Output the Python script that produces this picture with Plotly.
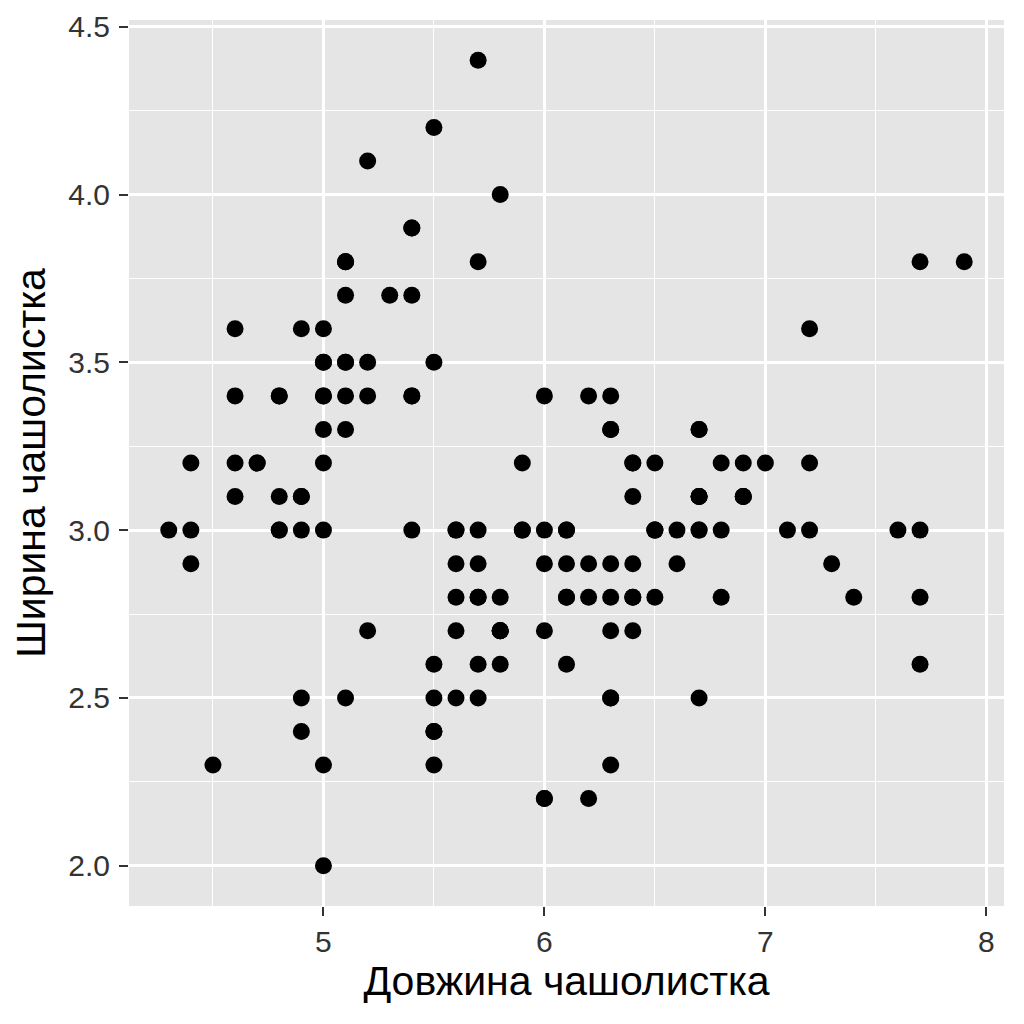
import plotly.graph_objects as go

sepal_length = [
    5.1, 4.9, 4.7, 4.6, 5.0, 5.4, 4.6, 5.0, 4.4, 4.9, 5.4, 4.8, 4.8, 4.3, 5.8, 5.7, 5.4, 5.1, 5.7, 5.1,
    5.4, 5.1, 4.6, 5.1, 4.8, 5.0, 5.0, 5.2, 5.2, 4.7, 4.8, 5.4, 5.2, 5.5, 4.9, 5.0, 5.5, 4.9, 4.4, 5.1,
    5.0, 4.5, 4.4, 5.0, 5.1, 4.8, 5.1, 4.6, 5.3, 5.0,
    7.0, 6.4, 6.9, 5.5, 6.5, 5.7, 6.3, 4.9, 6.6, 5.2, 5.0, 5.9, 6.0, 6.1, 5.6, 6.7, 5.6, 5.8, 6.2, 5.6,
    5.9, 6.1, 6.3, 6.1, 6.4, 6.6, 6.8, 6.7, 6.0, 5.7, 5.5, 5.5, 5.8, 6.0, 5.4, 6.0, 6.7, 6.3, 5.6, 5.5,
    5.5, 6.1, 5.8, 5.0, 5.6, 5.7, 5.7, 6.2, 5.1, 5.7,
    6.3, 5.8, 7.1, 6.3, 6.5, 7.6, 4.9, 7.3, 6.7, 7.2, 6.5, 6.4, 6.8, 5.7, 5.8, 6.4, 6.5, 7.7, 7.7, 6.0,
    6.9, 5.6, 7.7, 6.3, 6.7, 7.2, 6.2, 6.1, 6.4, 7.2, 7.4, 7.9, 6.4, 6.3, 6.1, 7.7, 6.3, 6.4, 6.0, 6.9,
    6.7, 6.9, 5.8, 6.8, 6.7, 6.7, 6.3, 6.5, 6.2, 5.9,
]
sepal_width = [
    3.5, 3.0, 3.2, 3.1, 3.6, 3.9, 3.4, 3.4, 2.9, 3.1, 3.7, 3.4, 3.0, 3.0, 4.0, 4.4, 3.9, 3.5, 3.8, 3.8,
    3.4, 3.7, 3.6, 3.3, 3.4, 3.0, 3.4, 3.5, 3.4, 3.2, 3.1, 3.4, 4.1, 4.2, 3.1, 3.2, 3.5, 3.6, 3.0, 3.4,
    3.5, 2.3, 3.2, 3.5, 3.8, 3.0, 3.8, 3.2, 3.7, 3.3,
    3.2, 3.2, 3.1, 2.3, 2.8, 2.8, 3.3, 2.4, 2.9, 2.7, 2.0, 3.0, 2.2, 2.9, 2.9, 3.1, 3.0, 2.7, 2.2, 2.5,
    3.2, 2.8, 2.5, 2.8, 2.9, 3.0, 2.8, 3.0, 2.9, 2.6, 2.4, 2.4, 2.7, 2.7, 3.0, 3.4, 3.1, 2.3, 3.0, 2.5,
    2.6, 3.0, 2.6, 2.3, 2.7, 3.0, 2.9, 2.9, 2.5, 2.8,
    3.3, 2.7, 3.0, 2.9, 3.0, 3.0, 2.5, 2.9, 2.5, 3.6, 3.2, 2.7, 3.0, 2.5, 2.8, 3.2, 3.0, 3.8, 2.6, 2.2,
    3.2, 2.8, 2.8, 2.7, 3.3, 3.2, 2.8, 3.0, 2.8, 3.0, 2.8, 3.8, 2.8, 2.8, 2.6, 3.0, 3.4, 3.1, 3.0, 3.1,
    3.1, 3.1, 2.7, 3.2, 3.3, 3.0, 2.5, 3.0, 3.4, 3.0,
]
x_ticks = [5, 6, 7, 8]
y_ticks = [2.0, 2.5, 3.0, 3.5, 4.0, 4.5]
x_title = "Довжина чашолистка"
y_title = "Ширина чашолистка"

fig = go.Figure(go.Scatter(
    x=sepal_length, y=sepal_width, mode="markers",
    marker=dict(color="black", size=17, line=dict(width=0)),
    hoverinfo="skip",
))

grid_minor_x = [4.5, 5.5, 6.5, 7.5]
grid_minor_y = [2.25, 2.75, 3.25, 3.75, 4.25]

fig.update_layout(
    width=1016, height=1016,
    margin=dict(l=121, r=20, t=12, b=118),
    paper_bgcolor="white", plot_bgcolor="#E5E5E5",
    font=dict(family="Liberation Sans, Arial, sans-serif", color="#1a1a1a"),
    showlegend=False,
    xaxis=dict(
        range=[4.12, 8.08], tickvals=x_ticks, ticktext=[str(v) for v in x_ticks],
        showgrid=True, gridcolor="white", gridwidth=2.6,
        minor=dict(tickvals=grid_minor_x, showgrid=True, gridcolor="white", gridwidth=1.3),
        ticks="outside", ticklen=9, tickwidth=2.2, tickcolor="#333333",
        tickfont=dict(size=30, color="#333333"),
        title=dict(text=x_title, font=dict(size=41, color="black"), standoff=8),
        zeroline=False, showline=False, automargin=False,
    ),
    yaxis=dict(
        range=[1.88, 4.52], tickvals=y_ticks, ticktext=[f"{v:.1f}" for v in y_ticks],
        showgrid=True, gridcolor="white", gridwidth=2.6,
        minor=dict(tickvals=grid_minor_y, showgrid=True, gridcolor="white", gridwidth=1.3),
        ticks="outside", ticklen=9, tickwidth=2.2, tickcolor="#333333",
        tickfont=dict(size=30, color="#333333"), ticklabelstandoff=3,
        title=dict(text=y_title, font=dict(size=41, color="black"), standoff=15),
        zeroline=False, showline=False, automargin=False,
    ),
)

fig.write_html("out.html")
